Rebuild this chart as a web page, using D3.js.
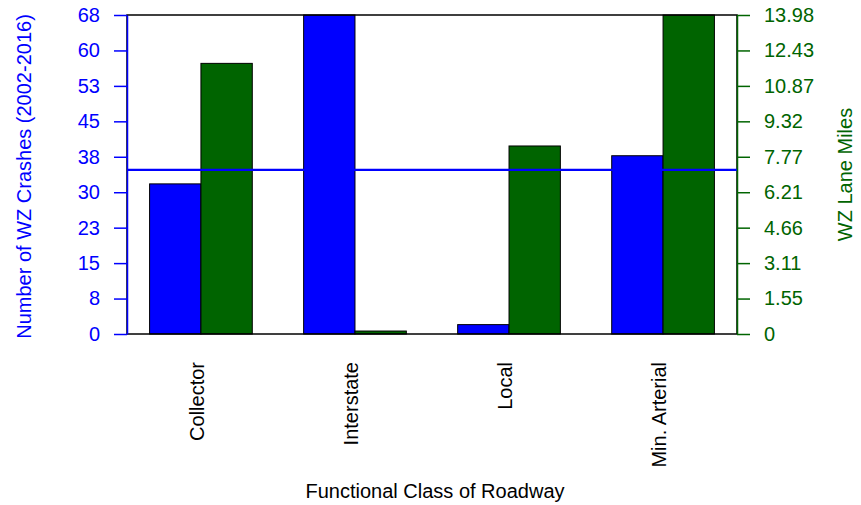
<!DOCTYPE html>
<html>
<head>
<meta charset="utf-8">
<script src="https://cdn.jsdelivr.net/npm/d3@7"></script>
<style>
  html, body { margin: 0; padding: 0; background: #fff; }
  svg { display: block; font-family: "Liberation Sans", Arial, sans-serif; }
</style>
</head>
<body>
<svg id="chart" width="861" height="505"></svg>
<script>
// ---- data ----
const categories = ["Collector", "Interstate", "Local", "Min. Arterial"];
const series = ["crashes", "laneMiles"];
const crashes = [32, 68, 2, 38];
const laneMiles = [11.86, 0.13, 8.24, 13.98];
const leftTickLabels = ["0", "8", "15", "23", "30", "38", "45", "53", "60", "68"];
const rightTickLabels = ["0", "1.55", "3.11", "4.66", "6.21", "7.77", "9.32", "10.87", "12.43", "13.98"];
const leftMax = 68;
const rightMax = 13.98;
const meanCrashes = d3.mean(crashes);

// ---- layout ----
const svg = d3.select("#chart");
const plot = { left: 127, right: 737, top: 15, bottom: 334 };
const BLUE = "#0000FF";
const GREEN = "#006400";

const x0 = d3.scaleBand()
  .domain(categories)
  .range([plot.left, plot.right])
  .paddingInner(1 / 3)
  .paddingOuter(0.44 / 3);
const x1 = d3.scaleBand().domain(series).range([0, x0.bandwidth()]);

const yL = d3.scaleLinear().domain([0, leftMax]).range([plot.bottom, plot.top]);
const yR = d3.scaleLinear().domain([0, rightMax]).range([plot.bottom, plot.top]);

const nT = leftTickLabels.length - 1;
const leftTickVals = leftTickLabels.map((_, i) => leftMax * i / nT);
const rightTickVals = rightTickLabels.map((_, i) => rightMax * i / nT);

// bars
const g = svg.append("g");
categories.forEach((c, i) => {
  g.append("rect")
    .attr("x", x0(c) + x1("crashes"))
    .attr("y", yL(crashes[i]))
    .attr("width", x1.bandwidth())
    .attr("height", yL(0) - yL(crashes[i]))
    .attr("fill", BLUE)
    .attr("stroke", "#000")
    .attr("stroke-width", 1);
  g.append("rect")
    .attr("x", x0(c) + x1("laneMiles"))
    .attr("y", yR(laneMiles[i]))
    .attr("width", x1.bandwidth())
    .attr("height", yR(0) - yR(laneMiles[i]))
    .attr("fill", GREEN)
    .attr("stroke", "#000")
    .attr("stroke-width", 1);
});

// box
svg.append("rect")
  .attr("x", plot.left).attr("y", plot.top)
  .attr("width", plot.right - plot.left).attr("height", plot.bottom - plot.top)
  .attr("fill", "none").attr("stroke", "#000").attr("stroke-width", 1.5);

// mean line
svg.append("line")
  .attr("x1", plot.left).attr("x2", plot.right)
  .attr("y1", yL(meanCrashes)).attr("y2", yL(meanCrashes))
  .attr("stroke", BLUE).attr("stroke-width", 2.2);

// left axis
const axL = svg.append("g")
  .attr("transform", `translate(${plot.left},0)`)
  .call(d3.axisLeft(yL).tickValues(leftTickVals)
    .tickFormat((d, i) => leftTickLabels[i]).tickSize(13).tickPadding(14).tickSizeOuter(0));
axL.selectAll("path, line").attr("stroke", BLUE).attr("stroke-width", 1.5);
axL.selectAll("text").attr("fill", BLUE).style("font-size", "20px")
  .style("font-family", '"Liberation Sans", Arial, sans-serif');

// right axis
const axR = svg.append("g")
  .attr("transform", `translate(${plot.right},0)`)
  .call(d3.axisRight(yR).tickValues(rightTickVals)
    .tickFormat((d, i) => rightTickLabels[i]).tickSize(13).tickPadding(14).tickSizeOuter(0));
axR.selectAll("path, line").attr("stroke", GREEN).attr("stroke-width", 1.5);
axR.selectAll("text").attr("fill", GREEN).style("font-size", "20px")
  .style("font-family", '"Liberation Sans", Arial, sans-serif');

// category labels
categories.forEach(c => {
  const cx = x0(c) + x0.bandwidth() / 2;
  svg.append("text")
    .attr("transform", `translate(${cx + 3},362) rotate(-90)`)
    .attr("text-anchor", "end")
    .attr("fill", "#000")
    .style("font-size", "20px")
    .text(c);
});

// axis titles
svg.append("text")
  .attr("transform", `translate(31,${(plot.top + plot.bottom) / 2 + 2}) rotate(-90)`)
  .attr("text-anchor", "middle")
  .attr("fill", BLUE)
  .style("font-size", "20px")
  .text("Number of WZ Crashes (2002-2016)");

svg.append("text")
  .attr("transform", `translate(852,${(plot.top + plot.bottom) / 2}) rotate(-90)`)
  .attr("text-anchor", "middle")
  .attr("fill", GREEN)
  .style("font-size", "20px")
  .text("WZ Lane Miles");

svg.append("text")
  .attr("x", (plot.left + plot.right) / 2 + 3)
  .attr("y", 498)
  .attr("text-anchor", "middle")
  .attr("fill", "#000")
  .style("font-size", "20px")
  .text("Functional Class of Roadway");
</script>
</body>
</html>
